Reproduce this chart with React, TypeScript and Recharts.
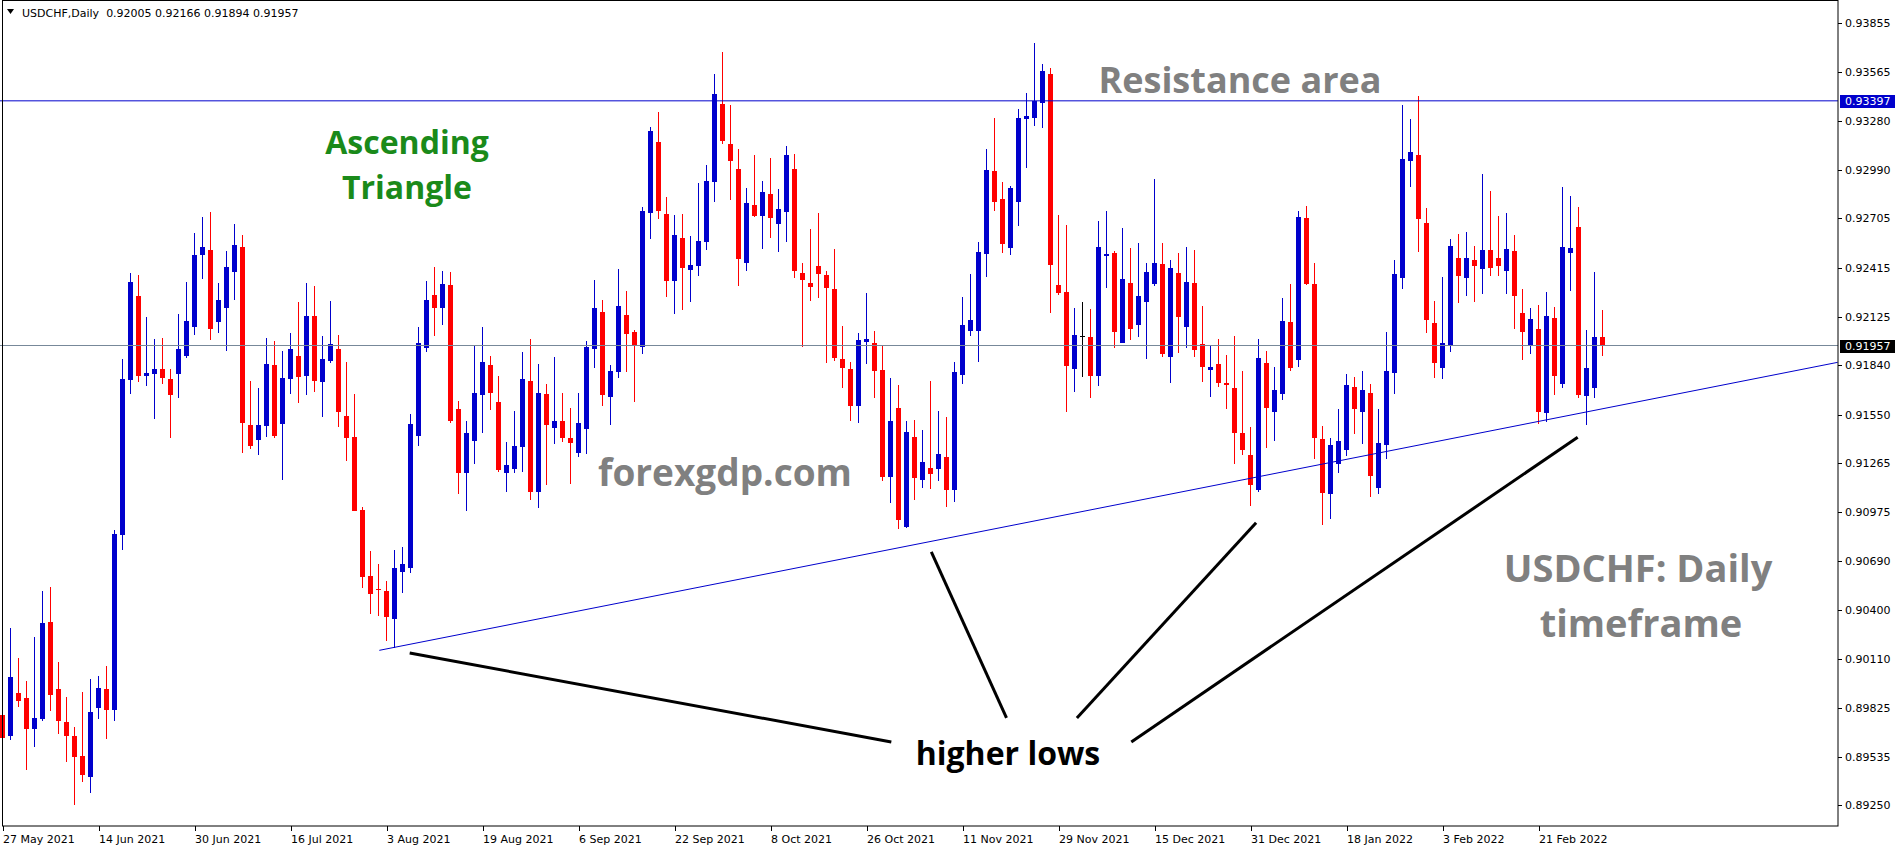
import { ComposedChart, Bar, XAxis, YAxis, ReferenceLine } from 'recharts'

// USDCHF daily, 27 May 2021 .. 3 Mar 2022 (one bar per weekday)
const opens = [
  0.89781, 0.89656, 0.89911, 0.89883, 0.89701, 0.8976, 0.9033, 0.89935, 0.89741, 0.89658,
  0.8954, 0.89419, 0.89826, 0.89935, 0.89814, 0.90843, 0.91756, 0.92248, 0.9178, 0.91787,
  0.91817, 0.91761, 0.91787, 0.91898, 0.92063, 0.92487, 0.9252, 0.92097, 0.92175, 0.92392,
  0.92534, 0.91489, 0.91402, 0.91485, 0.91841, 0.91493, 0.91762, 0.91895, 0.91776, 0.9213,
  0.91744, 0.91867, 0.91937, 0.91541, 0.91418, 0.90988, 0.906, 0.90524, 0.90512, 0.90349,
  0.90626, 0.90649, 0.91426, 0.91945, 0.92253, 0.9218, 0.92313, 0.91583, 0.91205, 0.91397,
  0.91668, 0.91842, 0.91624, 0.91209, 0.91232, 0.91362, 0.91748, 0.91097, 0.91672, 0.91473,
  0.91513, 0.91413, 0.91326, 0.91467, 0.91938, 0.92154, 0.91656, 0.91803, 0.92137, 0.92036,
  0.9195, 0.92737, 0.93155, 0.92731, 0.92338, 0.9259, 0.92401, 0.92422, 0.92568, 0.9292,
  0.9338, 0.9314, 0.92994, 0.92445, 0.92783, 0.9272, 0.92847, 0.92674, 0.92744, 0.92994,
  0.92385, 0.92326, 0.92426, 0.92373, 0.92291, 0.91875, 0.91817, 0.91602, 0.91977, 0.91969,
  0.91811, 0.91186, 0.9159, 0.90886, 0.9142, 0.91163, 0.91235, 0.91231, 0.913, 0.91107,
  0.91784, 0.92043, 0.92043, 0.92496, 0.92984, 0.92819, 0.92532, 0.92803, 0.93292, 0.93298,
  0.93386, 0.93555, 0.92313, 0.92272, 0.9182, 0.92013, 0.92007, 0.91778, 0.92485, 0.925,
  0.91973, 0.92325, 0.92079, 0.92214, 0.92321, 0.92437, 0.91891, 0.92384, 0.92068, 0.92325,
  0.91966, 0.91815, 0.91848, 0.91738, 0.91707, 0.91444, 0.91312, 0.91108, 0.91854, 0.91567,
  0.91673, 0.92095, 0.91873, 0.92707, 0.92319, 0.91406, 0.91085, 0.91261, 0.91344, 0.91713,
  0.91567, 0.91677, 0.9112, 0.91373, 0.91797, 0.92356, 0.93045, 0.93078, 0.92678, 0.92089,
  0.91826, 0.9196, 0.92472, 0.92356, 0.9246, 0.92409, 0.92519, 0.92472, 0.92397, 0.92513,
  0.92148, 0.91962, 0.92054, 0.91561, 0.92119, 0.91732, 0.92503, 0.92654, 0.91662, 0.91709,
  0.92005,
]

const highs = [
  0.90082, 0.90294, 0.90117, 0.89982, 0.9024, 0.90512, 0.90536, 0.90093, 0.89888, 0.8971,
  0.89918, 0.89994, 0.90011, 0.9007, 0.90874, 0.91877, 0.92383, 0.92371, 0.92125, 0.91995,
  0.92002, 0.91817, 0.92141, 0.92331, 0.92619, 0.92714, 0.92742, 0.92326, 0.92513, 0.92671,
  0.92608, 0.91748, 0.91706, 0.92001, 0.91983, 0.91925, 0.9203, 0.92214, 0.92325, 0.92307,
  0.92013, 0.9222, 0.92019, 0.91859, 0.9167, 0.91006, 0.90747, 0.90671, 0.9057, 0.90753,
  0.90771, 0.91553, 0.92066, 0.92337, 0.92419, 0.92395, 0.92389, 0.9163, 0.91513, 0.9196,
  0.92066, 0.91895, 0.91777, 0.91389, 0.91571, 0.91919, 0.91995, 0.91848, 0.9173, 0.91889,
  0.91677, 0.91589, 0.91677, 0.91984, 0.92343, 0.92225, 0.91842, 0.92407, 0.92278, 0.9205,
  0.92772, 0.93241, 0.93331, 0.92831, 0.92725, 0.92731, 0.92601, 0.92912, 0.93017, 0.93556,
  0.93685, 0.93374, 0.93111, 0.92883, 0.93076, 0.92923, 0.93058, 0.92877, 0.93134, 0.93087,
  0.92443, 0.92642, 0.92736, 0.92393, 0.92525, 0.9207, 0.9186, 0.92029, 0.92268, 0.92045,
  0.91959, 0.91766, 0.91723, 0.91512, 0.91518, 0.91459, 0.9175, 0.91571, 0.91537, 0.9186,
  0.92242, 0.92379, 0.92566, 0.93115, 0.93296, 0.92918, 0.92894, 0.93348, 0.93446, 0.93738,
  0.93613, 0.93591, 0.92725, 0.92666, 0.92178, 0.92214, 0.92172, 0.92689, 0.92749, 0.92516,
  0.92648, 0.9253, 0.9256, 0.92443, 0.92937, 0.9256, 0.9246, 0.92501, 0.92537, 0.92519,
  0.92189, 0.9196, 0.91995, 0.91901, 0.92013, 0.91807, 0.91477, 0.91995, 0.91924, 0.91832,
  0.92236, 0.92319, 0.92748, 0.92778, 0.92442, 0.91483, 0.91412, 0.91585, 0.91789, 0.91771,
  0.91807, 0.9173, 0.91583, 0.92036, 0.9246, 0.93372, 0.9329, 0.93425, 0.92766, 0.92219,
  0.9236, 0.92584, 0.92613, 0.92625, 0.92542, 0.92966, 0.92866, 0.92719, 0.92737, 0.92607,
  0.92289, 0.92178, 0.92195, 0.92272, 0.92183, 0.9289, 0.92837, 0.92772, 0.92048, 0.92389,
  0.92166,
]

const lows = [
  0.89597, 0.89637, 0.89828, 0.8946, 0.89597, 0.89748, 0.89807, 0.89668, 0.89507, 0.89251,
  0.89391, 0.89322, 0.8976, 0.89644, 0.89748, 0.90751, 0.91673, 0.91744, 0.9172, 0.91527,
  0.91732, 0.91415, 0.9165, 0.91886, 0.92016, 0.9235, 0.91992, 0.92033, 0.91926, 0.92222,
  0.91326, 0.9135, 0.91314, 0.9142, 0.91414, 0.91167, 0.91672, 0.91621, 0.91668, 0.91684,
  0.91537, 0.91855, 0.91479, 0.91278, 0.90984, 0.90532, 0.90379, 0.90367, 0.9022, 0.90176,
  0.90502, 0.9062, 0.91368, 0.91921, 0.92015, 0.9208, 0.91503, 0.91085, 0.90984, 0.91261,
  0.91444, 0.91577, 0.91214, 0.91097, 0.91205, 0.91214, 0.9105, 0.91003, 0.91138, 0.91379,
  0.91391, 0.91144, 0.91303, 0.9132, 0.91827, 0.91603, 0.91491, 0.91768, 0.91801, 0.91626,
  0.91909, 0.92584, 0.92701, 0.92242, 0.92142, 0.92166, 0.92213, 0.92369, 0.92521, 0.92802,
  0.93142, 0.92814, 0.92305, 0.92393, 0.92715, 0.92527, 0.92592, 0.92506, 0.92568, 0.92352,
  0.91947, 0.92217, 0.92234, 0.91854, 0.91866, 0.91707, 0.91514, 0.91502, 0.91848, 0.91649,
  0.91157, 0.91028, 0.90876, 0.90882, 0.91046, 0.91116, 0.91113, 0.91161, 0.91008, 0.91038,
  0.91732, 0.92013, 0.91862, 0.92361, 0.92749, 0.925, 0.9249, 0.92662, 0.93004, 0.93251,
  0.93239, 0.9215, 0.92256, 0.91567, 0.91685, 0.91772, 0.91649, 0.9172, 0.92297, 0.91943,
  0.91973, 0.91987, 0.92009, 0.91876, 0.92309, 0.91891, 0.91738, 0.91915, 0.91944, 0.91891,
  0.91744, 0.91656, 0.91715, 0.91585, 0.91261, 0.91314, 0.91014, 0.91096, 0.91355, 0.91397,
  0.91638, 0.91809, 0.91832, 0.92315, 0.91291, 0.90902, 0.90938, 0.91208, 0.91308, 0.91438,
  0.91379, 0.91067, 0.91085, 0.91291, 0.91673, 0.92291, 0.92892, 0.92509, 0.92032, 0.91767,
  0.91762, 0.91921, 0.92209, 0.9225, 0.92215, 0.92262, 0.92368, 0.92368, 0.92262, 0.92056,
  0.91873, 0.91909, 0.91497, 0.91509, 0.91667, 0.91709, 0.9228, 0.9165, 0.91491, 0.9165,
  0.91894,
]

const closes = [
  0.89649, 0.90006, 0.89866, 0.89701, 0.89765, 0.90323, 0.89902, 0.89748, 0.89661, 0.89538,
  0.89431, 0.898, 0.89942, 0.89814, 0.90845, 0.91761, 0.92331, 0.9178, 0.91796, 0.91817,
  0.91763, 0.91668, 0.91936, 0.92101, 0.92489, 0.92536, 0.92056, 0.92224, 0.92418, 0.92548,
  0.91503, 0.91368, 0.91489, 0.91847, 0.91426, 0.91766, 0.91937, 0.91774, 0.9213, 0.9175,
  0.91877, 0.91965, 0.91567, 0.91414, 0.90984, 0.90596, 0.90496, 0.90518, 0.90361, 0.90647,
  0.90671, 0.91495, 0.91971, 0.92225, 0.9218, 0.92319, 0.91515, 0.91209, 0.91443, 0.91677,
  0.9186, 0.91679, 0.91224, 0.91254, 0.91365, 0.9176, 0.91097, 0.91677, 0.91491, 0.91513,
  0.91415, 0.91385, 0.91501, 0.9195, 0.92178, 0.91668, 0.91807, 0.9219, 0.92027, 0.91954,
  0.92749, 0.93221, 0.92751, 0.92338, 0.92607, 0.92413, 0.92431, 0.92572, 0.92923, 0.93439,
  0.9316, 0.93043, 0.92469, 0.92795, 0.9272, 0.92859, 0.92709, 0.9276, 0.93076, 0.92398,
  0.9234, 0.92299, 0.92375, 0.92293, 0.91883, 0.91825, 0.91602, 0.91987, 0.91998, 0.91807,
  0.91186, 0.91512, 0.90929, 0.91448, 0.9118, 0.91272, 0.91201, 0.91318, 0.91107, 0.918,
  0.92077, 0.92106, 0.92506, 0.9299, 0.92803, 0.92556, 0.92885, 0.93296, 0.93308, 0.93396,
  0.93573, 0.92433, 0.92268, 0.91838, 0.92019, 0.92013, 0.91778, 0.92536, 0.92494, 0.92039,
  0.92347, 0.92055, 0.92248, 0.92389, 0.92442, 0.91907, 0.92413, 0.92127, 0.92331, 0.91932,
  0.91832, 0.9183, 0.91738, 0.91726, 0.91444, 0.91344, 0.91138, 0.91883, 0.91591, 0.91695,
  0.92101, 0.91826, 0.92713, 0.92321, 0.91414, 0.91091, 0.91371, 0.91395, 0.91724, 0.91585,
  0.91695, 0.91191, 0.91383, 0.91807, 0.92378, 0.93055, 0.93098, 0.92703, 0.92109, 0.91856,
  0.91972, 0.92542, 0.92368, 0.92472, 0.92427, 0.92519, 0.92415, 0.92427, 0.92525, 0.9225,
  0.92038, 0.92113, 0.91567, 0.9213, 0.91779, 0.92539, 0.92533, 0.91667, 0.91826, 0.92007,
  0.91957,
]

// one date label every 12 bars
const dateLabels = [
  '27 May 2021', '14 Jun 2021', '30 Jun 2021', '16 Jul 2021', '3 Aug 2021', '19 Aug 2021',
  '6 Sep 2021', '22 Sep 2021', '8 Oct 2021', '26 Oct 2021', '11 Nov 2021', '29 Nov 2021',
  '15 Dec 2021', '31 Dec 2021', '18 Jan 2022', '3 Feb 2022', '21 Feb 2022',
]

const priceTicks = [
  0.93855, 0.93565, 0.9328, 0.9299, 0.92705, 0.92415, 0.92125, 0.9184, 0.9155,
  0.91265, 0.90975, 0.9069, 0.904, 0.9011, 0.89825, 0.89535, 0.8925,
]

const RESISTANCE = 0.93397
const LAST_PRICE = 0.91957

// trend line through the lows, and the "higher lows" pointers (bar index, price)
const trendLine = [{ x: 47, y: 0.90163 }, { x: 229.3, y: 0.91858 }]
const pointerLines = [
  [{ x: 50.8, y: 0.90147 }, { x: 111, y: 0.89624 }],
  [{ x: 116, y: 0.90742 }, { x: 125.4, y: 0.89765 }],
  [{ x: 156.6, y: 0.90914 }, { x: 134.2, y: 0.89765 }],
  [{ x: 196.8, y: 0.91417 }, { x: 141, y: 0.89624 }],
]

const W = 1902
const H = 850
const PLOT_R = 1838
const PLOT_B = 826
const BULL = '#0000CC'
const BEAR = '#FF0000'
const FONT = '"DejaVu Sans", sans-serif'
const ANNOT = '"Open Sans", sans-serif'

const data = opens.map((open, i) => ({ i, open, high: highs[i], low: lows[i], close: closes[i] }))
const tickIdx = dateLabels.map((_, k) => k * 12)

function Candle(props: any) {
  const { x, y, width, height, payload } = props
  if (x == null || y == null || !payload) return null
  const { open, close, high, low } = payload
  const top = Math.min(y, y + height)
  const h = Math.abs(height)
  const cx = Math.floor(x + width / 2) + 0.5
  const py = (v: number) => top + ((high - v) / (high - low || 1)) * h
  const color = close > open ? BULL : close < open ? BEAR : '#000000'
  const b1 = Math.round(py(Math.max(open, close)))
  const b2 = Math.round(py(Math.min(open, close)))
  return (
    <g>
      <line x1={cx} x2={cx} y1={Math.round(top)} y2={Math.round(top + h)} stroke={color} strokeWidth={1} />
      {b2 - b1 < 1 ? (
        <line x1={cx - 2.5} x2={cx + 2.5} y1={b1 + 0.5} y2={b1 + 0.5} stroke={color} strokeWidth={1} />
      ) : (
        <rect x={cx - 2.5} y={b1} width={5} height={b2 - b1} fill={color} />
      )}
    </g>
  )
}

function XTick({ x, payload }: any) {
  const xi = Math.round(x) + 0.5
  return (
    <g>
      <line x1={xi} x2={xi} y1={PLOT_B} y2={PLOT_B + 5} stroke="#000" />
      <text x={xi - 0.5} y={PLOT_B + 17} fontSize={11} fontFamily={FONT} fill="#000">
        {dateLabels[Math.round(payload.value / 12)]}
      </text>
    </g>
  )
}

function YTick({ y, payload }: any) {
  const yi = Math.round(y) + 0.5
  return (
    <g>
      <line x1={PLOT_R} x2={PLOT_R + 4} y1={yi} y2={yi} stroke="#000" />
      <text x={PLOT_R + 7} y={yi} dy="0.36em" fontSize={11} fontFamily={FONT} fill="#000">
        {payload.value.toFixed(5)}
      </text>
    </g>
  )
}

function PriceTag({ viewBox, bg, text }: any) {
  if (!viewBox) return null
  const y = Math.round(viewBox.y)
  return (
    <g>
      <rect x={PLOT_R + 2} y={y - 6} width={55} height={13} fill={bg} />
      <text x={PLOT_R + 7} y={y} dy="0.36em" fontSize={11} fontFamily={FONT} fill="#fff">{text}</text>
    </g>
  )
}

export default function App() {
  return (
    <div style={{ position: 'relative', width: W, height: H, background: '#fff' }}>
      <style>{'body{margin:0;background:#fff}'}</style>
      <ComposedChart width={W} height={H} data={data} margin={{ top: 0, right: 0, bottom: 0, left: 0 }}>
        <XAxis
          dataKey="i"
          type="number"
          domain={[-0.4125, 229.3375]}
          allowDataOverflow
          ticks={tickIdx}
          interval={0}
          tick={<XTick />}
          tickLine={false}
          axisLine={false}
          height={24}
        />
        <YAxis
          orientation="right"
          type="number"
          domain={[0.891292, 0.939904]}
          allowDataOverflow
          ticks={priceTicks}
          interval={0}
          tick={<YTick />}
          tickLine={false}
          axisLine={false}
          width={64}
        />
        <ReferenceLine y={LAST_PRICE} stroke="#778899" strokeWidth={1} label={<PriceTag bg="#000000" text="0.91957" />} />
        <ReferenceLine y={RESISTANCE} stroke="#0000CC" strokeWidth={1} label={<PriceTag bg="#0000CC" text="0.93397" />} />
        <ReferenceLine segment={trendLine} stroke="#0000CC" strokeWidth={1} ifOverflow="visible" />
        <Bar
          dataKey={(d: any) => [d.low, d.high]}
          barSize={5}
          shape={(p: any) => <Candle {...p} />}
          isAnimationActive={false}
        />
        {pointerLines.map((seg, k) => (
          <ReferenceLine key={k} segment={seg} stroke="#000" strokeWidth={3} ifOverflow="visible" />
        ))}
      </ComposedChart>
      <svg width={W} height={H} style={{ position: 'absolute', left: 0, top: 0, pointerEvents: 'none' }}>
        <rect x={2.5} y={0.5} width={PLOT_R - 2.5} height={PLOT_B - 0.5} fill="none" stroke="#000" />
        <path d="M7 9 L14 9 L10.5 14 Z" fill="#000" />
        <text x={22} y={17} fontSize={11} fontFamily={FONT} fill="#000">
          USDCHF,Daily{'\u00a0\u00a0'}0.92005 0.92166 0.91894 0.91957
        </text>
        <g fontFamily={ANNOT} fontWeight={700}>
          <text x={407} y={154} fontSize={32} fill="#1A8A1A" textAnchor="middle">Ascending</text>
          <text x={407} y={199} fontSize={32} fill="#1A8A1A" textAnchor="middle">Triangle</text>
          <text x={1240} y={93} fontSize={36} fill="#808080" textAnchor="middle">Resistance area</text>
          <text x={725} y={486} fontSize={37} fill="#808080" textAnchor="middle">forexgdp.com</text>
          <text x={1638} y={582} fontSize={38} fill="#808080" textAnchor="middle">USDCHF: Daily</text>
          <text x={1641} y={637} fontSize={38} fill="#808080" textAnchor="middle">timeframe</text>
          <text x={1008} y={765} fontSize={32} fill="#000" textAnchor="middle">higher lows</text>
        </g>
      </svg>
    </div>
  )
}
